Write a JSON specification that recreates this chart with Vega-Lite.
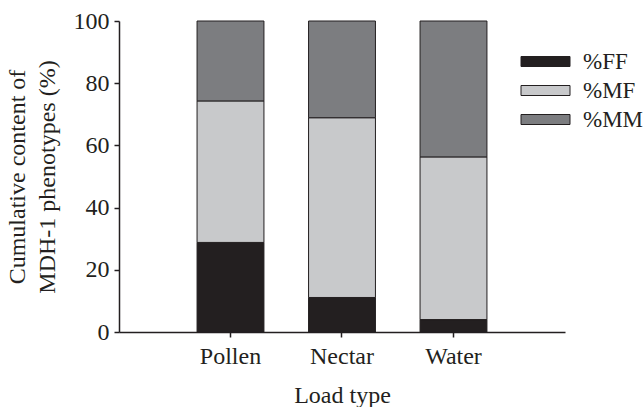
{
  "$schema": "https://vega.github.io/schema/vega-lite/v6.json",
  "autosize": "none",
  "width": 446,
  "height": 311,
  "padding": {"left": 119, "top": 21, "right": 79, "bottom": 75},
  "background": "white",
  "config": {
    "font": "'Liberation Serif', 'DejaVu Serif', serif",
    "view": {"stroke": null},
    "axis": {"domainColor": "#231f20", "tickColor": "#231f20", "labelColor": "#231f20", "titleColor": "#231f20", "labelFont": "'Liberation Serif', 'DejaVu Serif', serif", "titleFont": "'Liberation Serif', 'DejaVu Serif', serif", "labelFontSize": 24, "titleFontSize": 24, "titleFontWeight": "normal", "grid": false, "domainWidth": 1.5, "tickWidth": 1.5}
  },
  "data": {
    "values": [
      {"load": "Pollen", "phenotype": "%FF", "value": 28.8},
      {"load": "Pollen", "phenotype": "%MF", "value": 45.5},
      {"load": "Pollen", "phenotype": "%MM", "value": 25.7},
      {"load": "Nectar", "phenotype": "%FF", "value": 11.1},
      {"load": "Nectar", "phenotype": "%MF", "value": 57.8},
      {"load": "Nectar", "phenotype": "%MM", "value": 31.1},
      {"load": "Water", "phenotype": "%FF", "value": 4.0},
      {"load": "Water", "phenotype": "%MF", "value": 52.3},
      {"load": "Water", "phenotype": "%MM", "value": 43.7}
    ]
  },
  "mark": {"type": "bar", "stroke": "#231f20", "strokeWidth": 1},
  "encoding": {
    "x": {
      "field": "load", "type": "nominal", "sort": ["Pollen", "Nectar", "Water"],
      "scale": {"paddingInner": 0.4, "paddingOuter": 0.7},
      "axis": {"title": "Load type", "labelAngle": 0, "tickSize": 5, "labelPadding": 7, "titlePadding": 15}
    },
    "y": {
      "field": "value", "type": "quantitative", "stack": "zero",
      "scale": {"domain": [0, 100], "nice": false},
      "axis": {"title": ["Cumulative content of", "MDH-1 phenotypes (%)"], "values": [0, 20, 40, 60, 80, 100], "tickSize": 5, "labelPadding": 5, "titlePadding": 14, "titleLineHeight": 30}
    },
    "color": {
      "field": "phenotype", "type": "nominal",
      "scale": {"domain": ["%FF", "%MF", "%MM"], "range": ["#231f20", "#c8c9cb", "#7c7d80"]},
      "legend": {
        "title": null, "orient": "none", "legendX": 415, "legendY": 29,
        "symbolType": "M-4.9,-1L4.9,-1L4.9,1L-4.9,1Z", "symbolSize": 100,
        "symbolStrokeColor": "#231f20", "symbolStrokeWidth": 1, "symbolOpacity": 1,
        "labelFont": "'Liberation Serif', 'DejaVu Serif', serif", "labelFontSize": 23, "labelColor": "#231f20",
        "rowPadding": 5, "labelOffset": 26
      }
    },
    "order": {"field": "phenotype", "sort": "ascending"}
  }
}
